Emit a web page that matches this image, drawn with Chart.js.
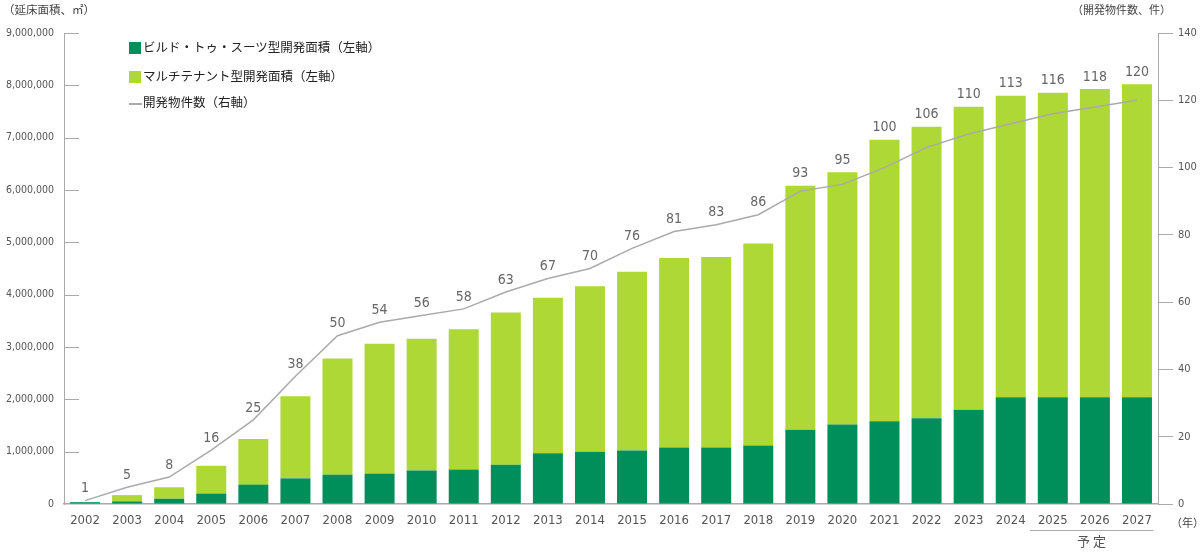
<!DOCTYPE html>
<html>
<head>
<meta charset="utf-8">
<script src="https://cdn.jsdelivr.net/npm/chart.js@4.4.1/dist/chart.umd.min.js"></script>
<style>
  body { margin:0; background:#fff; }
  #wrap { position:relative; width:1200px; height:554px; }
  #myChart { position:absolute; left:0; top:0; }
  .t { position:absolute; font-family:"Noto Sans CJK JP", sans-serif; color:#444; white-space:nowrap; line-height:1; }
  .lg { font-size:12.5px; color:#222; }
  .sw { position:absolute; width:12px; height:12px; }
</style>
</head>
<body>
<div id="wrap">
  <canvas id="myChart" width="1200" height="554"></canvas>
  <div class="t" style="left:3px; top:4px; font-size:11.5px;">（延床面積、㎡）</div>
  <div class="t" style="left:1072px; top:4px; font-size:11px;">（開発物件数、件）</div>
  <div class="t" style="left:1171px; top:517px; font-size:11px;">（年）</div>
  <div class="sw" style="left:129px; top:42px; background:#008f5a;"></div>
  <div class="t lg" style="left:143px; top:41px;">ビルド・トゥ・スーツ型開発面積（左軸）</div>
  <div class="sw" style="left:129px; top:71px; background:#add836;"></div>
  <div class="t lg" style="left:143px; top:70px;">マルチテナント型開発面積（左軸）</div>
  <div style="position:absolute; left:129px; top:103px; width:13px; height:1.5px; background:#aaa;"></div>
  <div class="t lg" style="left:143px; top:96px;">開発物件数（右軸）</div>
  <div style="position:absolute; left:1030px; top:530px; width:123px; height:1px; background:#aaa;"></div>
  <div class="t" style="left:1077px; top:534px; font-size:13px; letter-spacing:3px; color:#555;">予定</div>
</div>
<script>
const years = ['2002','2003','2004','2005','2006','2007','2008','2009','2010','2011','2012','2013','2014',
  '2015','2016','2017','2018','2019','2020','2021','2022','2023','2024','2025','2026','2027'];
// ビルド・トゥ・スーツ型 (m2)
const btsArea = [35000, 50000, 100000, 200000, 370000, 490000, 560000, 580000, 640000, 660000, 750000, 970000, 1000000,
  1020000, 1080000, 1080000, 1120000, 1420000, 1520000, 1580000, 1640000, 1800000, 2040000, 2040000, 2040000, 2040000];
// マルチテナント型 (m2)
const multiArea = [0, 120000, 220000, 530000, 870000, 1570000, 2220000, 2480000, 2520000, 2680000, 2910000, 2970000, 3160000,
  3420000, 3620000, 3640000, 3860000, 4660000, 4820000, 5380000, 5570000, 5790000, 5760000, 5820000, 5890000, 5980000];
// 開発物件数
const counts = [1, 5, 8, 16, 25, 38, 50, 54, 56, 58, 63, 67, 70, 76, 81, 83, 86, 93, 95, 100, 106, 110, 113, 116, 118, 120];

const numFont = "'DejaVu Sans Condensed', 'Liberation Sans', sans-serif";
const gray = '#aaaaaa';

// short tick marks drawn inward from the left axis + count labels
const extras = {
  id: 'extras',
  afterDatasetsDraw(chart) {
    const ctx = chart.ctx;
    const y = chart.scales.y, y1 = chart.scales.y1, x = chart.scales.x;
    ctx.save();
    ctx.strokeStyle = gray;
    ctx.lineWidth = 1;
    y.ticks.forEach(t => {
      if (t.value === 0) return;
      const py = Math.round(y.getPixelForValue(t.value)) + 0.5;
      ctx.beginPath();
      ctx.moveTo(chart.chartArea.left, py);
      ctx.lineTo(chart.chartArea.left + 15, py);
      ctx.stroke();
    });
    ctx.fillStyle = '#666';
    ctx.font = "14px " + numFont;
    ctx.textAlign = 'center';
    ctx.textBaseline = 'bottom';
    for (let i = 0; i < years.length; i++) {
      const px = x.getPixelForValue(i);
      const barTop = y.getPixelForValue(btsArea[i] + multiArea[i]);
      const lineTop = y1.getPixelForValue(counts[i]);
      ctx.fillText(String(counts[i]), px, Math.min(barTop, lineTop) - 5);
    }
    ctx.restore();
  }
};

const ctx = document.getElementById('myChart').getContext('2d');
const myChart = new Chart(ctx, {
  type: 'bar',
  data: {
    labels: years,
    datasets: [{
      label: 'ビルド・トゥ・スーツ型開発面積（左軸）',
      data: btsArea,
      backgroundColor: '#008f5a',
      stack: 'area',
      yAxisID: 'y',
      order: 2
    },
    {
      label: 'マルチテナント型開発面積（左軸）',
      data: multiArea,
      backgroundColor: '#add836',
      stack: 'area',
      yAxisID: 'y',
      order: 2
    },
    {
      type: 'line',
      label: '開発物件数（右軸）',
      data: counts,
      borderColor: gray,
      borderWidth: 1.5,
      pointRadius: 0,
      tension: 0,
      yAxisID: 'y1',
      order: 0
    }]
  },
  options: {
    responsive: false,
    animation: false,
    events: [],
    layout: { padding: { top: 33, left: 0, right: 0, bottom: 0 } },
    plugins: { legend: { display: false }, tooltip: { enabled: false } },
    datasets: { bar: { categoryPercentage: 1, barPercentage: 0.713 } },
    scales: {
      x: {
        stacked: true,
        grid: { display: false, drawTicks: false },
        border: { color: gray, width: 1.5 },
        ticks: { color: '#555', font: { family: numFont, size: 13 }, padding: 9, maxRotation: 0, autoSkip: false },
        afterFit(s) { s.height = 50; }
      },
      y: {
        stacked: true,
        position: 'left',
        min: 0, max: 9000000,
        grid: { drawOnChartArea: false, drawTicks: false },
        border: { color: gray, width: 1 },
        ticks: {
          stepSize: 1000000, padding: 10, color: '#555',
          font: { family: numFont, size: 10.5 },
          callback: v => v.toLocaleString('en-US')
        },
        afterFit(s) { s.width = 64; }
      },
      y1: {
        position: 'right',
        min: 0, max: 140,
        grid: { drawOnChartArea: false, color: gray, tickLength: 15 },
        border: { color: gray, width: 1 },
        ticks: { stepSize: 20, padding: 5, color: '#555', font: { family: numFont, size: 11 } },
        afterFit(s) { s.width = 42; }
      }
    }
  },
  plugins: [extras]
});
</script>
</body>
</html>
